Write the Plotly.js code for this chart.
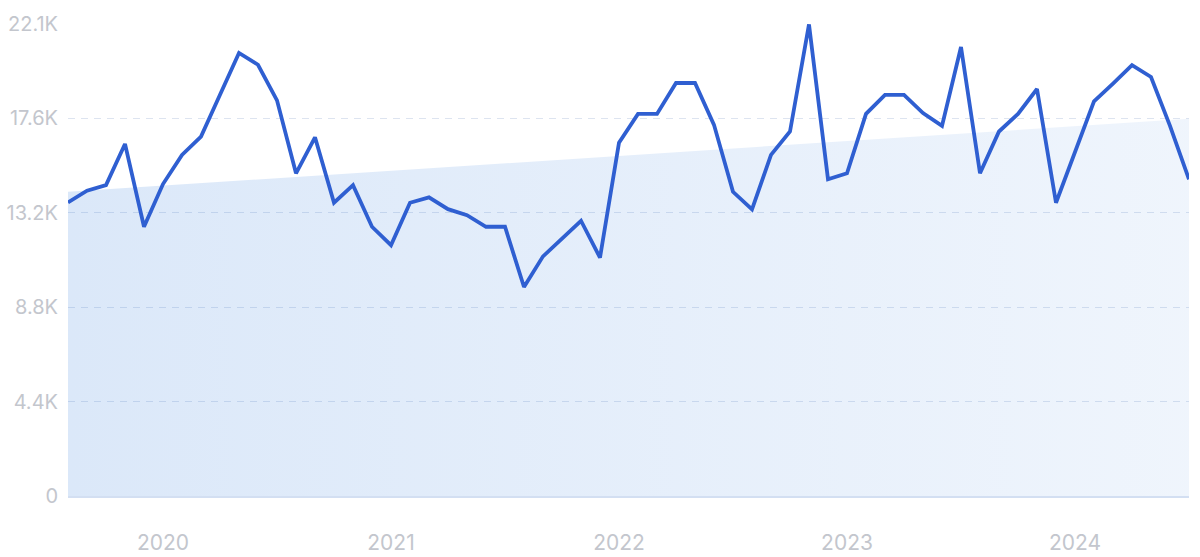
<!DOCTYPE html>
<html>
<head>
<meta charset="utf-8">
<script src="https://cdn.plot.ly/plotly-3.0.1.min.js"></script>
<style>
  html, body { margin: 0; padding: 0; background: #ffffff; }
  #chart { width: 1200px; height: 557px; }
</style>
</head>
<body>
<div id="chart"></div>
<script>
// Monthly categories (Aug 2019 – Jul 2024)
const months = [
  '2019-08','2019-09','2019-10','2019-11','2019-12',
  '2020-01','2020-02','2020-03','2020-04','2020-05','2020-06','2020-07','2020-08','2020-09','2020-10','2020-11','2020-12',
  '2021-01','2021-02','2021-03','2021-04','2021-05','2021-06','2021-07','2021-08','2021-09','2021-10','2021-11','2021-12',
  '2022-01','2022-02','2022-03','2022-04','2022-05','2022-06','2022-07','2022-08','2022-09','2022-10','2022-11','2022-12',
  '2023-01','2023-02','2023-03','2023-04','2023-05','2023-06','2023-07','2023-08','2023-09','2023-10','2023-11','2023-12',
  '2024-01','2024-02','2024-03','2024-04','2024-05','2024-06','2024-07'
];

// Search volume per month
const volume = [
  13680, 14230, 14490, 16410, 12550,
  14540, 15900, 16750, 18700, 20650, 20100, 18440, 15040, 16720, 13670, 14490,
  12550, 11690, 13670, 13920, 13370, 13090, 12550, 12550, 9740, 11170, 12000, 12830,
  11110, 16470, 17810, 17810, 19250, 19250, 17300, 14180, 13360, 15900, 16990, 21980,
  14760, 15040, 17810, 18700, 18700, 17850, 17250, 20930, 15040, 16990, 17810, 18970,
  13670, 16050, 18390, 19220, 20080, 19530, 17250, 14760
];

// Trend line (start, end)
const trendMonths = ['2019-08', '2024-07'];
const trendValues = [14180, 17580];

// Axis ticks
const xTickVals = ['2020-01', '2021-01', '2022-01', '2023-01', '2024-01'];
const xTickText = ['2020', '2021', '2022', '2023', '2024'];
const yTickVals = [0, 4400, 8800, 13200, 17600, 22000];
const yTickText = ['0', '4.4K', '8.8K', '13.2K', '17.6K', '22.1K'];

const traces = [
  {
    type: 'scatter',
    mode: 'lines',
    x: trendMonths,
    y: trendValues,
    fill: 'tozeroy',
    line: { width: 0, color: 'rgba(0,0,0,0)' },
    fillcolor: 'rgba(30,111,217,0.12)',
    fillgradient: {
      type: 'horizontal',
      colorscale: [[0, 'rgba(30,111,217,0.16)'], [1, 'rgba(30,111,217,0.07)']]
    },
    hoverinfo: 'skip',
    showlegend: false
  },
  {
    type: 'scatter',
    mode: 'lines',
    x: months,
    y: volume,
    line: { color: '#2f5fd1', width: 3.8 },
    cliponaxis: false,
    showlegend: false
  }
];

const layout = {
  width: 1200,
  height: 557,
  margin: { l: 68, r: 11, t: 24, b: 61 },
  paper_bgcolor: '#ffffff',
  plot_bgcolor: '#ffffff',
  font: { family: 'Inter, Roboto, sans-serif', color: '#c3c6cd' },
  xaxis: {
    type: 'category',
    categoryorder: 'array',
    categoryarray: months,
    range: [0, months.length - 1],
    tickvals: xTickVals,
    ticktext: xTickText,
    tickfont: { size: 21, color: '#c3c6cd' },
    showgrid: false,
    zeroline: false,
    showline: true,
    linecolor: '#d3dff2',
    linewidth: 2,
    ticks: '',
    ticklabelstandoff: 27,
    fixedrange: true
  },
  yaxis: {
    range: [0, 22000],
    tickvals: yTickVals,
    ticktext: yTickText,
    tickfont: { size: 20, color: '#c3c6cd' },
    showgrid: true,
    gridcolor: '#dde4f0',
    gridwidth: 1,
    griddash: '7px,6px',
    zeroline: false,
    showline: false,
    ticks: '',
    ticklabelstandoff: 9,
    fixedrange: true
  },
  showlegend: false
};

Plotly.newPlot('chart', traces, layout, { displayModeBar: false, staticPlot: true });
</script>
</body>
</html>
